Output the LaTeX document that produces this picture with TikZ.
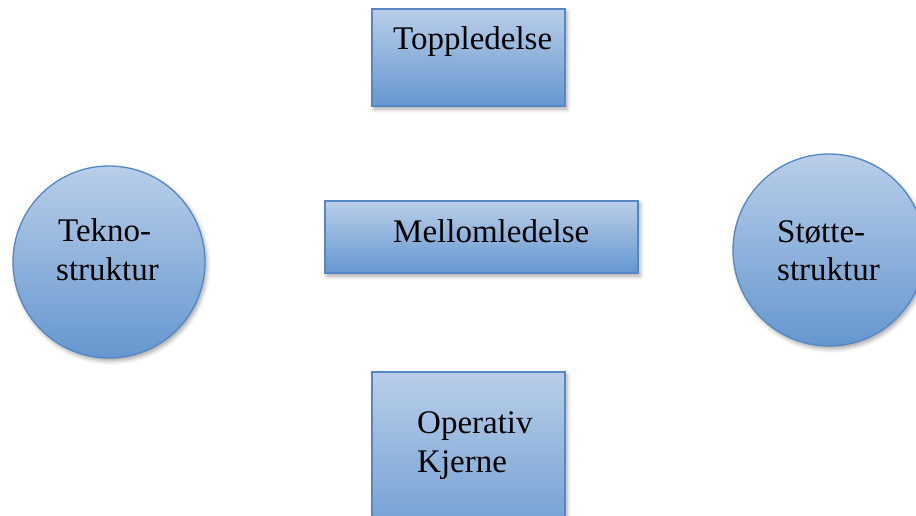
\documentclass[tikz,border=0pt]{standalone}
\usepackage{fontspec}
\setmainfont{Liberation Serif}
\usetikzlibrary{shadows.blur}
\definecolor{topc}{RGB}{185,206,233}
\definecolor{botc}{RGB}{101,151,207}
\definecolor{edgec}{RGB}{84,135,196}
\begin{document}
\begin{tikzpicture}[x=1pt,y=-1pt,
  shapebox/.style={draw=edgec, line width=1.3pt, top color=topc, bottom color=botc,
    blur shadow={shadow xshift=2pt, shadow yshift=-3pt, shadow blur radius=4pt, shadow opacity=35},
    inner sep=0pt, outer sep=0pt},
  lbl/.style={anchor=base west, inner sep=0pt, font=\fontsize{33}{40}\selectfont}]
\useasboundingbox (0,0) rectangle (916,515);
\clip (0,0) rectangle (916,515);
\node[shapebox, rectangle, minimum width=193pt, minimum height=97pt] (top) at (468.5,57.5) {};
\node[shapebox, rectangle, minimum width=313pt, minimum height=72pt] (mid) at (481.5,237) {};
\node[shapebox, circle, minimum size=192pt] (tekno) at (109,262) {};
\node[shapebox, circle, minimum size=192pt] (stotte) at (829,250) {};
\node[shapebox, rectangle, minimum width=193pt, minimum height=188pt] (op) at (468.5,466) {};
\node[lbl] (toptxt) at (393,49) {Toppledelse};
\node[lbl] (midtxt) at (393,242) {Mellomledelse};
\node[lbl] (tk1) at (58,241) {Tekno-};
\node[lbl] (tk2) at (56,280) {struktur};
\node[lbl] (st1) at (777,242) {Støtte-};
\node[lbl] (st2) at (777,280) {struktur};
\node[lbl] (op1) at (417,433) {Operativ};
\node[lbl] (op2) at (417,472) {Kjerne};
\end{tikzpicture}
\end{document}
